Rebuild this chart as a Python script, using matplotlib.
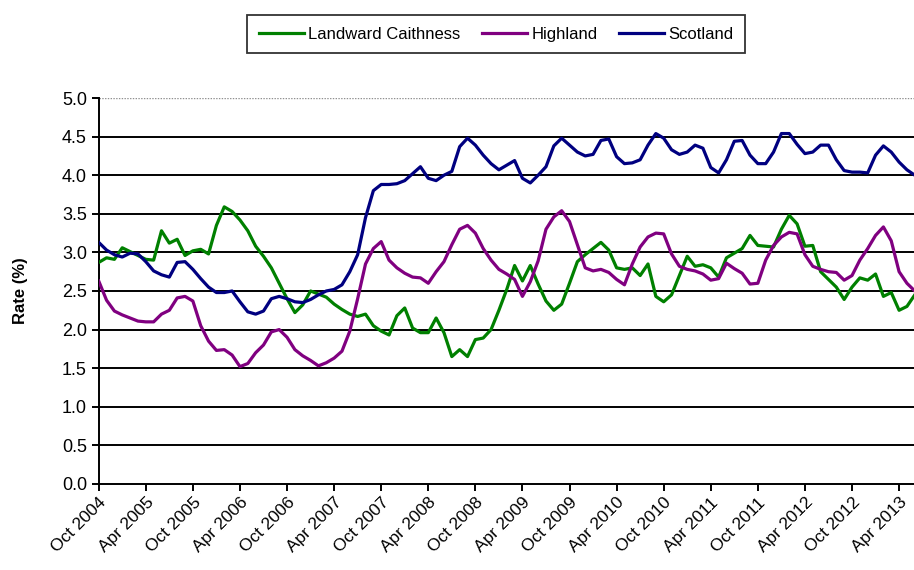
import matplotlib
matplotlib.use('Agg')
import matplotlib.pyplot as plt

plt.rcParams['font.family'] = ['Liberation Sans', 'DejaVu Sans']

# monthly claimant rates, Oct 2004 .. Jun 2013
tick_labels = ['Oct 2004', 'Apr 2005', 'Oct 2005', 'Apr 2006', 'Oct 2006', 'Apr 2007',
               'Oct 2007', 'Apr 2008', 'Oct 2008', 'Apr 2009', 'Oct 2009', 'Apr 2010',
               'Oct 2010', 'Apr 2011', 'Oct 2011', 'Apr 2012', 'Oct 2012', 'Apr 2013']

caithness = [2.87, 2.93, 2.91, 3.06, 3.01, 2.96, 2.91, 2.90, 3.28, 3.12,
             3.17, 2.96, 3.02, 3.04, 2.98, 3.35, 3.59, 3.53, 3.42, 3.28,
             3.08, 2.95, 2.80, 2.60, 2.40, 2.22, 2.32, 2.50, 2.46, 2.42,
             2.33, 2.26, 2.20, 2.17, 2.20, 2.05, 1.98, 1.93, 2.18, 2.28,
             2.02, 1.96, 1.96, 2.15, 1.96, 1.65, 1.74, 1.65, 1.87, 1.89,
             2.00, 2.25, 2.52, 2.83, 2.63, 2.83, 2.59, 2.37, 2.25, 2.33,
             2.60, 2.88, 2.97, 3.05, 3.13, 3.03, 2.80, 2.78, 2.80, 2.70,
             2.85, 2.43, 2.36, 2.45, 2.70, 2.95, 2.82, 2.84, 2.80, 2.68,
             2.93, 2.99, 3.05, 3.22, 3.09, 3.08, 3.07, 3.30, 3.48, 3.37,
             3.08, 3.09, 2.75, 2.65, 2.55, 2.39, 2.55, 2.67, 2.64, 2.72,
             2.43, 2.48, 2.25, 2.30, 2.45]

highland = [2.63, 2.38, 2.24, 2.19, 2.15, 2.11, 2.10, 2.10, 2.20, 2.25,
            2.41, 2.43, 2.37, 2.05, 1.85, 1.73, 1.74, 1.67, 1.52, 1.56,
            1.70, 1.80, 1.97, 2.00, 1.90, 1.74, 1.66, 1.60, 1.53, 1.57,
            1.63, 1.72, 1.98, 2.40, 2.85, 3.05, 3.14, 2.90, 2.80, 2.73,
            2.68, 2.67, 2.60, 2.75, 2.88, 3.10, 3.30, 3.35, 3.25, 3.05,
            2.90, 2.78, 2.72, 2.65, 2.43, 2.62, 2.89, 3.30, 3.46, 3.54,
            3.40, 3.10, 2.80, 2.76, 2.78, 2.74, 2.65, 2.58, 2.85, 3.07,
            3.20, 3.25, 3.24, 2.98, 2.82, 2.78, 2.76, 2.72, 2.64, 2.66,
            2.86, 2.79, 2.73, 2.59, 2.60, 2.90, 3.09, 3.20, 3.26, 3.24,
            2.97, 2.82, 2.78, 2.75, 2.74, 2.64, 2.70, 2.90, 3.05, 3.22,
            3.33, 3.15, 2.75, 2.60, 2.50]

scotland = [3.13, 3.03, 2.97, 2.94, 2.99, 2.98, 2.88, 2.76, 2.71, 2.68,
            2.87, 2.88, 2.78, 2.66, 2.55, 2.48, 2.48, 2.50, 2.36, 2.23,
            2.20, 2.24, 2.40, 2.43, 2.40, 2.36, 2.35, 2.39, 2.45, 2.50,
            2.52, 2.58, 2.75, 2.97, 3.45, 3.80, 3.88, 3.88, 3.89, 3.93,
            4.02, 4.11, 3.96, 3.93, 4.00, 4.05, 4.37, 4.48, 4.39, 4.26,
            4.15, 4.07, 4.13, 4.19, 3.96, 3.90, 4.00, 4.11, 4.38, 4.48,
            4.39, 4.30, 4.25, 4.27, 4.45, 4.47, 4.24, 4.15, 4.16, 4.20,
            4.39, 4.54, 4.48, 4.33, 4.27, 4.30, 4.39, 4.35, 4.10, 4.03,
            4.20, 4.44, 4.45, 4.26, 4.15, 4.15, 4.30, 4.54, 4.54, 4.40,
            4.28, 4.30, 4.39, 4.39, 4.20, 4.06, 4.04, 4.04, 4.03, 4.26,
            4.38, 4.30, 4.17, 4.07, 4.00]

months = list(range(len(scotland)))

fig = plt.figure(figsize=(9.14, 5.7), dpi=100)
ax = fig.add_axes([0.108, 0.151, 0.892, 0.677])

ax.plot(months, caithness, color='#008000', lw=2.3, label='Landward Caithness', zorder=3)
ax.plot(months, highland, color='#800080', lw=2.3, label='Highland', zorder=3)
ax.plot(months, scotland, color='#000080', lw=2.3, label='Scotland', zorder=3)

yticks = [i * 0.5 for i in range(11)]
for y in yticks[1:-1]:
    ax.axhline(y, color='black', lw=1.4, zorder=1)
ax.axhline(5.0, color='#909090', lw=1.0, ls=(0, (1, 1)), zorder=1)

ax.set_xlim(0, 103.9)
ax.set_ylim(0, 5)
ax.set_yticks(yticks)
ax.set_yticklabels(['%.1f' % y for y in yticks], fontsize=13)
ax.set_xticks(range(0, 6 * len(tick_labels), 6))
ax.set_xticklabels(tick_labels, rotation=45, ha='right', rotation_mode='anchor', fontsize=12.5)
ax.tick_params(axis='both', direction='out', length=5, width=1.4, color='black')
ax.tick_params(axis='x', pad=3)

for s in ['top', 'right']:
    ax.spines[s].set_visible(False)
for s in ['left', 'bottom']:
    ax.spines[s].set_linewidth(1.4)
    ax.spines[s].set_color('black')

ax.set_ylabel('Rate (%)', fontweight='bold', fontsize=12)
ax.yaxis.set_label_coords(-0.087, 0.5)

leg = fig.legend(loc='center', bbox_to_anchor=(0.543, 0.94), ncol=3, frameon=True,
                 fancybox=False, edgecolor='black', handlelength=2.7, columnspacing=1.3,
                 handletextpad=0.25, fontsize=12, borderpad=0.7)
leg.get_frame().set_linewidth(1.3)

fig.savefig('out.png', dpi=100)
